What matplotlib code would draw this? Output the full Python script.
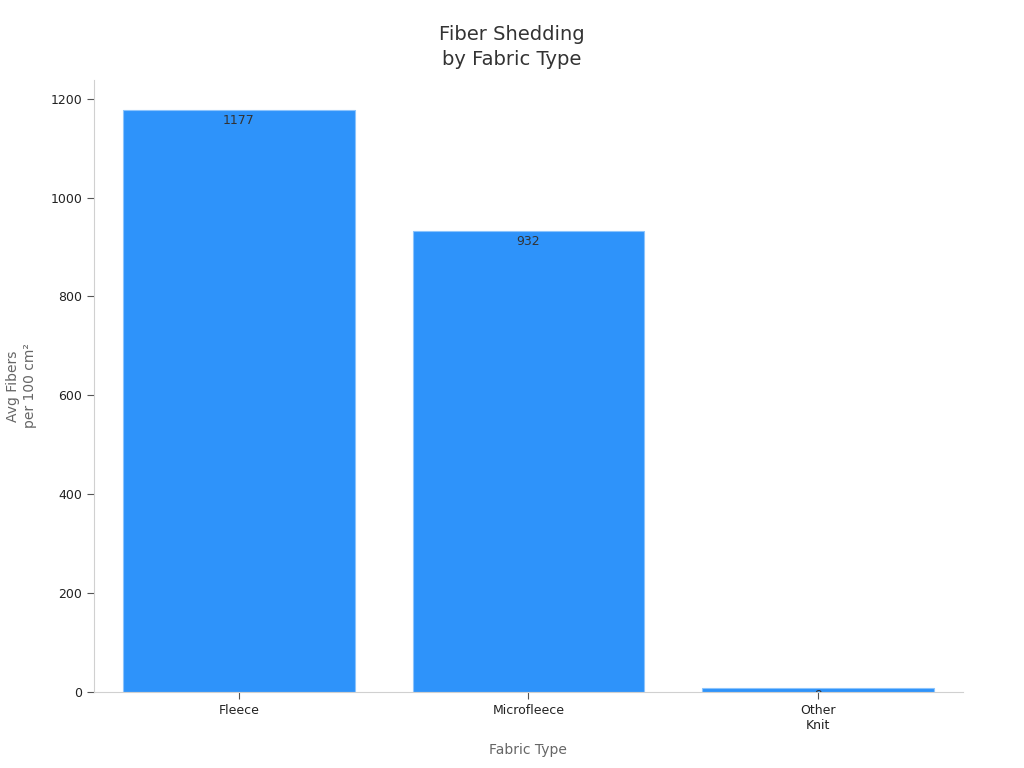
import matplotlib
matplotlib.use("Agg")
import matplotlib.pyplot as plt

# ── Veri ──────────────────────────────────────────────────────────────────────
fabrics = ["Fleece", "Microfleece", "Other\nKnit"]
fibers  = [1177, 932, 9]

BAR_COLOR = "#2E93FA"

fig, ax = plt.subplots(figsize=(10.24, 7.68), dpi=100)
fig.subplots_adjust(left=0.092, right=0.940, top=0.896, bottom=0.099)

x = range(len(fabrics))
bars = ax.bar(x, fibers, width=0.8, color=BAR_COLOR, edgecolor="#8cc4fc", linewidth=0.8)

# Değer etiketleri: çubuğun üst kenarının hemen içinde (eksene kırpılır)
for bar, v in zip(bars, fibers):
    off = -3 if v > 50 else -1
    ax.annotate(f"{v}", (bar.get_x() + bar.get_width() / 2, bar.get_height()),
                xytext=(0, off), textcoords="offset points",
                ha="center", va="top", fontsize=9, color="#333333",
                annotation_clip=False, clip_on=True)

ax.set_xticks(list(x))
ax.set_xticklabels(fabrics, fontsize=9, color="#222222")
ax.set_xlim(-0.5, 2.5)
ax.set_ylim(0, 1238)
ax.set_yticks([0, 200, 400, 600, 800, 1000, 1200])
ax.tick_params(axis="y", labelsize=9, labelcolor="#222222", color="#555555", length=5)
ax.tick_params(axis="x", color="#555555", length=5)

for side in ["top", "right"]:
    ax.spines[side].set_visible(False)
for side in ["left", "bottom"]:
    ax.spines[side].set_color("#d0d0d0")

ax.set_xlabel("Fabric Type", fontsize=10, color="#666666", labelpad=8)
ax.set_ylabel("Avg Fibers\nper 100 cm²", fontsize=10, color="#666666", labelpad=10)
fig.suptitle("Fiber Shedding\nby Fabric Type", x=0.5, y=0.968, fontsize=14,
             color="#333333", linespacing=1.45, va="top")

plt.savefig("out.png", dpi=100)
plt.close()
